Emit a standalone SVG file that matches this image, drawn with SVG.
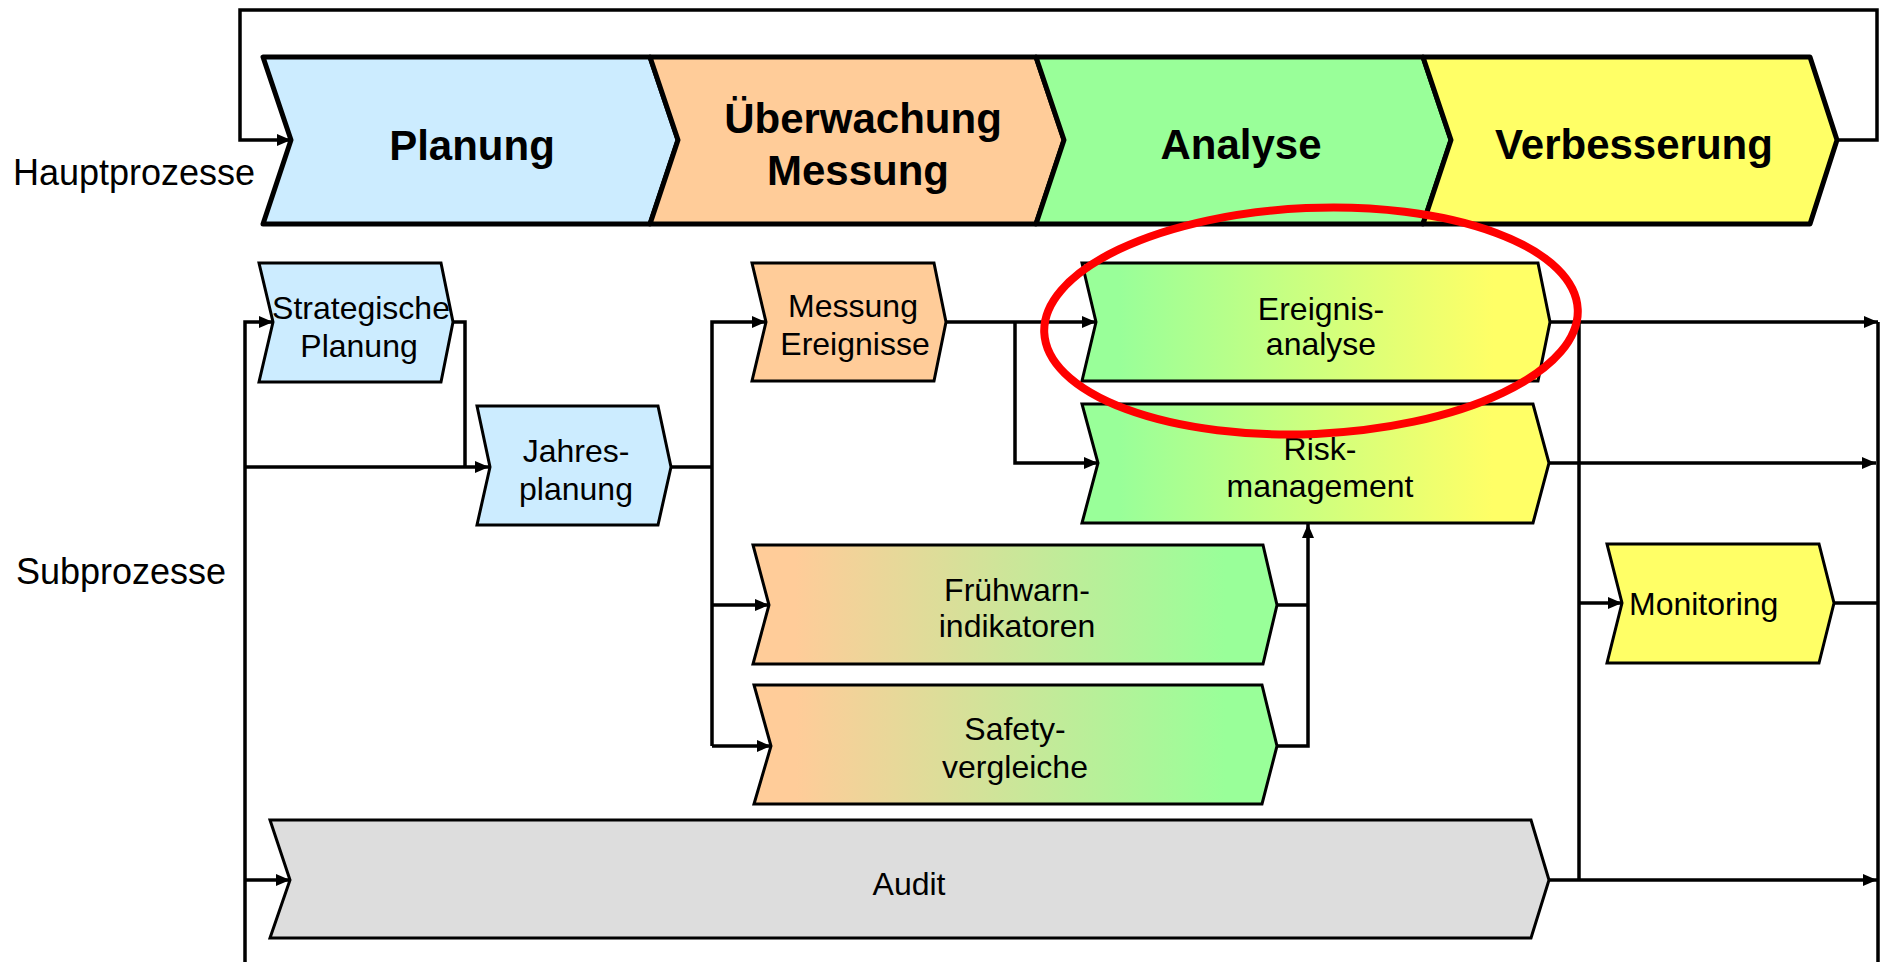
<svg xmlns="http://www.w3.org/2000/svg" width="1880" height="962" viewBox="0 0 1880 962">
  <style>
    .main { stroke: #000; stroke-width: 5; stroke-linejoin: round; }
    .sub { stroke: #000; stroke-width: 3; stroke-linejoin: miter; }
    .conn { fill: none; stroke: #000; stroke-width: 3.5; stroke-linejoin: miter; }
    .lbl { font-family: "Liberation Sans", Arial, sans-serif; fill: #000; }
    .big { font-size: 42px; font-weight: bold; text-anchor: middle; }
    .side { font-size: 36px; }
    .txt { font-size: 32px; text-anchor: middle; }
  </style>
  <defs>
    <marker id="arrow" viewBox="0 0 14 12" refX="14" refY="6" markerWidth="14" markerHeight="12" markerUnits="userSpaceOnUse" orient="auto">
      <path d="M0,0 L14,6 L0,12 z" fill="#000"/>
    </marker>
    <linearGradient id="greenYellow" x1="0" y1="0" x2="1" y2="0">
      <stop offset="0.08" stop-color="#99FF99"/>
      <stop offset="0.88" stop-color="#FFFF66"/>
    </linearGradient>
    <linearGradient id="orangeGreen" x1="0" y1="0" x2="1" y2="0">
      <stop offset="0.08" stop-color="#FFCC99"/>
      <stop offset="0.9" stop-color="#99FF99"/>
    </linearGradient>
  </defs>

  <rect width="1880" height="962" fill="#fff"/>

  <!-- row labels -->
  <text class="lbl side" x="13" y="185">Hauptprozesse</text>
  <text class="lbl side" x="16" y="584">Subprozesse</text>

  <!-- connectors -->
  <g id="connectors">
    <!-- feedback loop over the main processes -->
    <path class="conn" d="M1837,140 H1877 V10 H240 V140 H291" marker-end="url(#arrow)"/>
    <!-- left trunk -->
    <path class="conn" d="M245,962 V322 H273" marker-end="url(#arrow)"/>
    <path class="conn" d="M245,467 H489" marker-end="url(#arrow)"/>
    <path class="conn" d="M245,880 H290" marker-end="url(#arrow)"/>
    <path class="conn" d="M453,322 H465 V467"/>
    <!-- annual plan fan-out -->
    <path class="conn" d="M671,467 H712"/>
    <path class="conn" d="M712,746 V322 H766" marker-end="url(#arrow)"/>
    <path class="conn" d="M712,605 H769" marker-end="url(#arrow)"/>
    <path class="conn" d="M712,746 H771" marker-end="url(#arrow)"/>
    <!-- event measurement to analysis -->
    <path class="conn" d="M946,322 H1096" marker-end="url(#arrow)"/>
    <path class="conn" d="M1015,322 V463 H1098" marker-end="url(#arrow)"/>
    <!-- indicators into risk management -->
    <path class="conn" d="M1277,605 H1308"/>
    <path class="conn" d="M1277,746 H1308 V524" marker-end="url(#arrow)"/>
    <!-- outputs to the right -->
    <path class="conn" d="M1549,322 H1878" marker-end="url(#arrow)"/>
    <path class="conn" d="M1549,463 H1876" marker-end="url(#arrow)"/>
    <path class="conn" d="M1549,880 H1877" marker-end="url(#arrow)"/>
    <path class="conn" d="M1579,322 V880"/>
    <path class="conn" d="M1579,603 H1622" marker-end="url(#arrow)"/>
    <path class="conn" d="M1834,603 H1878"/>
    <path class="conn" d="M1878,322 V962"/>
  </g>

  <!-- main processes -->
  <g id="planung">
    <polygon class="main" fill="#CCECFF" points="263,57 650,57 678,140 650,224 263,224 291,140"/>
    <text class="lbl big" x="472" y="160">Planung</text>
  </g>
  <g id="ueberwachung">
    <polygon class="main" fill="#FFCC99" points="650,57 1036,57 1064,140 1036,224 650,224 678,140"/>
    <text class="lbl big" x="863" y="133">Überwachung</text>
    <text class="lbl big" x="858" y="185">Messung</text>
  </g>
  <g id="analyse">
    <polygon class="main" fill="#99FF99" points="1036,57 1423,57 1451,140 1423,224 1036,224 1064,140"/>
    <text class="lbl big" x="1241" y="159">Analyse</text>
  </g>
  <g id="verbesserung">
    <polygon class="main" fill="#FFFF66" points="1423,57 1810,57 1837,140 1810,224 1423,224 1451,140"/>
    <text class="lbl big" x="1634" y="159">Verbesserung</text>
  </g>

  <!-- sub processes -->
  <g id="strategische-planung">
    <polygon class="sub" fill="#CCECFF" points="259,263 441,263 453,322 441,382 259,382 273,322"/>
    <text class="lbl txt" x="361" y="319">Strategische</text>
    <text class="lbl txt" x="359" y="357">Planung</text>
  </g>
  <g id="jahresplanung">
    <polygon class="sub" fill="#CCECFF" points="477,406 658,406 671,467 658,525 477,525 490,467"/>
    <text class="lbl txt" x="576" y="462">Jahres-</text>
    <text class="lbl txt" x="576" y="500">planung</text>
  </g>
  <g id="messung-ereignisse">
    <polygon class="sub" fill="#FFCC99" points="752,263 934,263 946,322 934,381 752,381 766,322"/>
    <text class="lbl txt" x="853" y="317">Messung</text>
    <text class="lbl txt" x="855" y="355">Ereignisse</text>
  </g>
  <g id="ereignisanalyse">
    <polygon class="sub" fill="url(#greenYellow)" points="1082,263 1538,263 1550,322 1538,381 1082,381 1096,322"/>
    <text class="lbl txt" x="1321" y="320">Ereignis-</text>
    <text class="lbl txt" x="1321" y="355">analyse</text>
  </g>
  <g id="riskmanagement">
    <polygon class="sub" fill="url(#greenYellow)" points="1082,404 1533,404 1549,463 1533,523 1082,523 1098,463"/>
    <text class="lbl txt" x="1320" y="460">Risk-</text>
    <text class="lbl txt" x="1320" y="497">management</text>
  </g>
  <g id="fruehwarnindikatoren">
    <polygon class="sub" fill="url(#orangeGreen)" points="753,545 1263,545 1277,605 1263,664 753,664 769,605"/>
    <text class="lbl txt" x="1017" y="601">Frühwarn-</text>
    <text class="lbl txt" x="1017" y="637">indikatoren</text>
  </g>
  <g id="safetyvergleiche">
    <polygon class="sub" fill="url(#orangeGreen)" points="754,685 1262,685 1277,746 1262,804 754,804 771,746"/>
    <text class="lbl txt" x="1015" y="740">Safety-</text>
    <text class="lbl txt" x="1015" y="778">vergleiche</text>
  </g>
  <g id="monitoring">
    <polygon class="sub" fill="#FFFF66" points="1607,544 1819,544 1834,603 1819,663 1607,663 1622,603"/>
    <text class="lbl" font-size="32" x="1629" y="615">Monitoring</text>
  </g>
  <g id="audit">
    <polygon class="sub" fill="#DDDDDD" points="270,820 1531,820 1549,880 1531,938 270,938 290,880"/>
    <text class="lbl txt" x="909" y="895">Audit</text>
  </g>

  <!-- highlight around the event analysis -->
  <g id="highlight">
    <ellipse cx="1311" cy="321" rx="267" ry="113" transform="rotate(-2.5 1311 321)" fill="none" stroke="#FF0000" stroke-width="8"/>
  </g>
</svg>
